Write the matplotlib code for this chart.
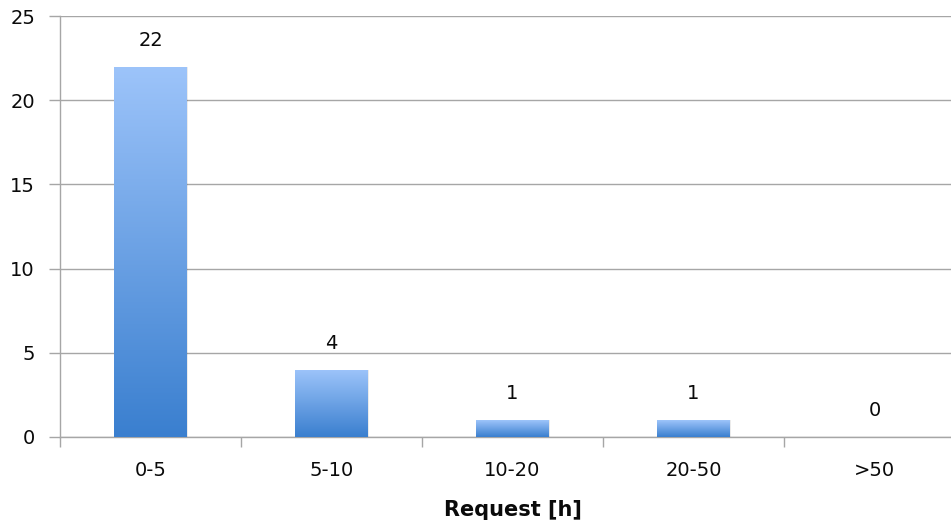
import matplotlib

matplotlib.use("Agg")
import matplotlib.pyplot as plt  # noqa: E402
import numpy as np  # noqa: E402
from matplotlib.colors import LinearSegmentedColormap  # noqa: E402
from matplotlib.patches import Rectangle  # noqa: E402

categories = ["0-5", "5-10", "10-20", "20-50", ">50"]
counts = [22, 4, 1, 1, 0]
y_ticks = [0, 5, 10, 15, 20, 25]

GRID = "#A6A6A6"
INK = "#0A0A0A"
BAR_TOP = "#9DC4FA"
BAR_BOTTOM = "#3A7FCF"

plt.rcParams.update({"font.family": "DejaVu Sans", "font.size": 14})

fig = plt.figure(figsize=(9.51, 5.26), dpi=100)
ax = fig.add_axes([60 / 951, 89 / 526, 905 / 951, 421 / 526])

x = np.arange(len(categories))
width = 0.4
cmap = LinearSegmentedColormap.from_list("bar", [BAR_BOTTOM, BAR_TOP])
grad = np.linspace(0, 1, 256).reshape(-1, 1)

for xi, val in zip(x, counts):
    left = xi - width / 2
    if val > 0:
        # faint shadow around each bar
        shadow = Rectangle((left + 0.006, 0), width, val, facecolor="#000000",
                           alpha=0.08, edgecolor="none", zorder=2)
        ax.add_patch(shadow)
        im = ax.imshow(grad, extent=(left, left + width, 0, val), origin="lower",
                       cmap=cmap, aspect="auto", zorder=3)
        clip = Rectangle((left, 0), width, val, transform=ax.transData)
        im.set_clip_path(clip)
    ax.annotate(str(val), (xi, val), xytext=(0, 19), textcoords="offset points",
                ha="center", va="center", color=INK, fontsize=14)

ax.set_xlim(-0.5, len(categories) - 0.5)
ax.set_ylim(0, 25)
ax.set_yticks(y_ticks)
ax.grid(axis="y", color=GRID, linewidth=1.0, zorder=0)
ax.set_axisbelow(True)

ax.set_xticks(x, labels=categories)
ax.set_xticks(np.arange(len(categories) + 1) - 0.5, minor=True)
ax.tick_params(axis="x", which="major", length=0, pad=17, labelcolor=INK)
ax.tick_params(axis="x", which="minor", length=7, width=1, color=GRID)
ax.tick_params(axis="y", length=8, width=1, color=GRID, pad=10, labelcolor=INK)

for side in ["top", "right"]:
    ax.spines[side].set_visible(False)
for side in ["left", "bottom"]:
    ax.spines[side].set_color(GRID)
    ax.spines[side].set_linewidth(1.0)

ax.set_xlabel("Request [h]", fontsize=15, fontweight="bold", color=INK, labelpad=15)

fig.savefig("out.png", dpi=100)
